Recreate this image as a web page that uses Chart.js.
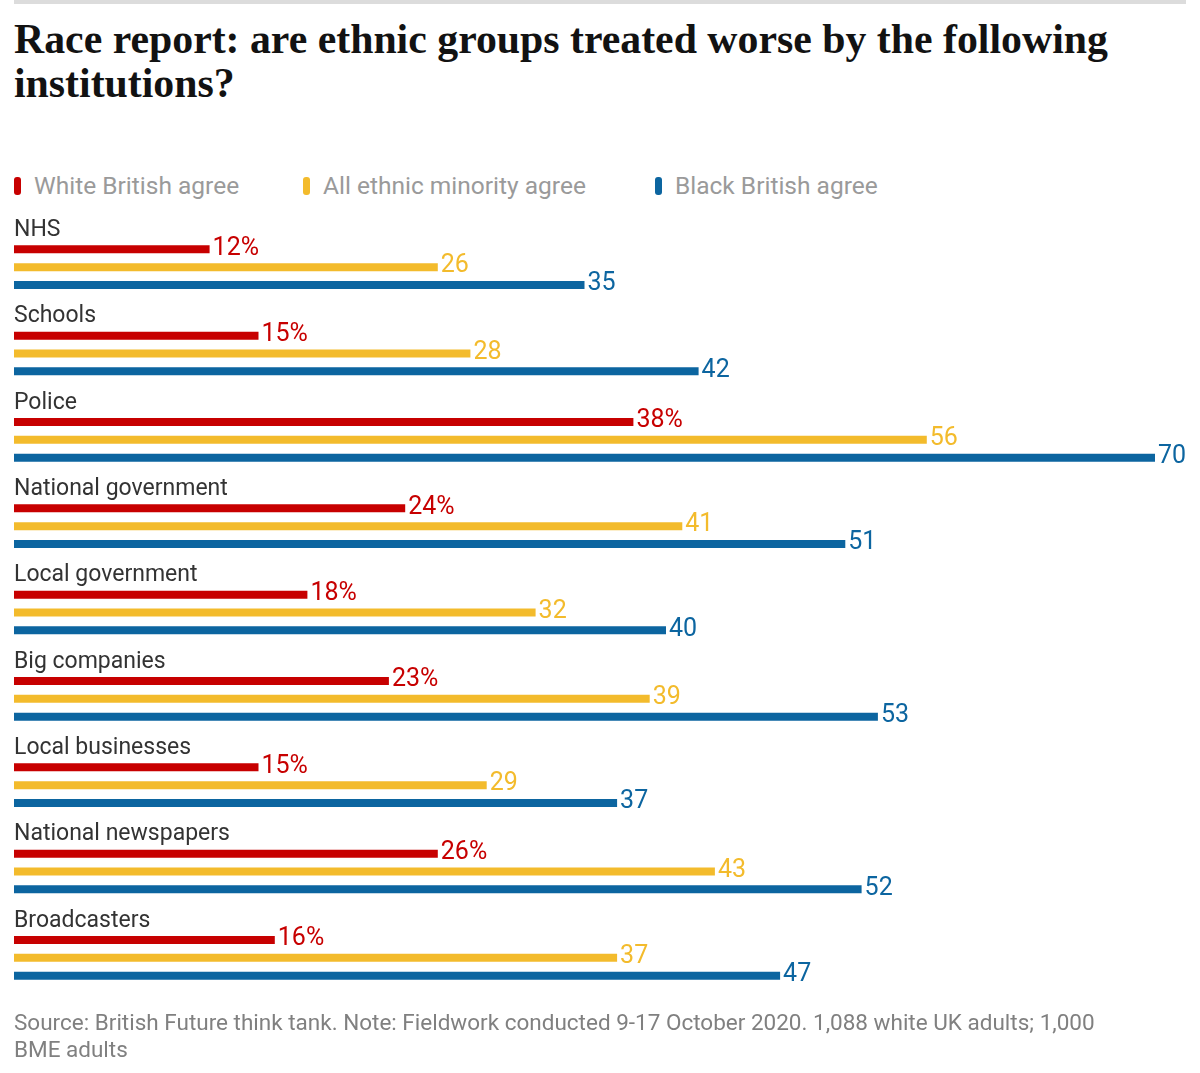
<!DOCTYPE html>
<html>
<head>
<meta charset="utf-8">
<script src="https://cdn.jsdelivr.net/npm/chart.js@4/dist/chart.umd.min.js"></script>
<style>
  html, body { margin: 0; padding: 0; background: #fff; }
  body { width: 1200px; height: 1073px; position: relative; overflow: hidden; font-family: Roboto, sans-serif; }
  .topline { position: absolute; left: 14px; top: 0; width: 1172px; height: 4px; background: #dcdcdc; }
  h1 { position: absolute; left: 14px; top: 17px; margin: 0; width: 1170px;
       font-family: "Liberation Serif", serif; font-weight: bold; font-size: 41.8px; line-height: 44px; color: #121212; }
  .legend { position: absolute; left: 14px; top: 171px; height: 30px; }
  .legend span { position: absolute; top: 0; white-space: nowrap; font-size: 24.5px; line-height: 30px; color: #9a9a9a; }
  .legend i { position: absolute; top: 6px; left: 0; width: 7px; height: 18px; border-radius: 3px; }
  .legend b { font-weight: normal; margin-left: 20px; }
  #wrap { position: absolute; left: 0; top: 200px; width: 1200px; height: 810px; }
  .note { position: absolute; left: 14px; top: 1009px; width: 1128px; font-size: 22.5px; line-height: 27px; color: #808080; }
</style>
</head>
<body>
<div class="topline"></div>
<h1>Race report: are ethnic groups treated worse by the following institutions?</h1>
<div class="legend" id="legend"></div>
<div id="wrap"><canvas id="chart"></canvas></div>
<div class="note">Source: British Future think tank. Note: Fieldwork conducted 9-17 October 2020. 1,088 white UK adults; 1,000 BME adults</div>
<script>
const categories = ["NHS", "Schools", "Police", "National government", "Local government",
  "Big companies", "Local businesses", "National newspapers", "Broadcasters"];
const whiteBritish = [12, 15, 38, 24, 18, 23, 15, 26, 16];
const allMinority = [26, 28, 56, 41, 32, 39, 29, 43, 37];
const blackBritish = [35, 42, 70, 51, 40, 53, 37, 52, 47];
const seriesNames = ["White British agree", "All ethnic minority agree", "Black British agree"];
const colours = ["#c70000", "#f3bb2c", "#0c65a0"];

// html legend
const legendX = [0, 289, 641];
const legend = document.getElementById("legend");
seriesNames.forEach((name, i) => {
  const s = document.createElement("span");
  s.style.left = legendX[i] + "px";
  s.innerHTML = `<i style="background:${colours[i]}"></i><b>${name}</b>`;
  legend.appendChild(s);
});

// category name above each group of bars
const groupLabels = {
  id: "groupLabels",
  afterDraw(chart) {
    const ctx = chart.ctx;
    const meta = chart.getDatasetMeta(1);
    ctx.save();
    ctx.font = "23px Roboto";
    ctx.fillStyle = "#333333";
    ctx.textBaseline = "middle";
    ctx.textAlign = "left";
    meta.data.forEach((bar, i) => {
      ctx.fillText(chart.data.labels[i], chart.chartArea.left, bar.y - 37);
    });
    ctx.restore();
  }
};

// value at the end of each bar
const valueLabels = {
  id: "valueLabels",
  afterDatasetsDraw(chart) {
    const ctx = chart.ctx;
    ctx.save();
    ctx.font = "25px Roboto";
    ctx.textBaseline = "middle";
    ctx.textAlign = "left";
    chart.data.datasets.forEach((ds, di) => {
      ctx.fillStyle = ds.backgroundColor;
      chart.getDatasetMeta(di).data.forEach((bar, i) => {
        const txt = ds.data[i] + (di === 0 ? "%" : "");
        ctx.fillText(txt, bar.x + 3, bar.y - 1);
      });
    });
    ctx.restore();
  }
};

const datasets = [whiteBritish, allMinority, blackBritish].map((d, i) => ({
  label: seriesNames[i],
  data: d,
  backgroundColor: colours[i],
  categoryPercentage: 0.62,
  barPercentage: 0.45
}));

new Chart(document.getElementById("chart"), {
  type: "bar",
  data: { labels: categories, datasets: datasets },
  options: {
    indexAxis: "y",
    responsive: true,
    maintainAspectRatio: false,
    animation: false,
    layout: { padding: { left: 14, right: 45, top: 24, bottom: 9 } },
    plugins: {
      legend: { display: false },
      tooltip: { enabled: false }
    },
    scales: {
      x: { display: false, min: 0, max: 70 },
      y: { display: false }
    }
  },
  plugins: [groupLabels, valueLabels]
});
</script>
</body>
</html>
